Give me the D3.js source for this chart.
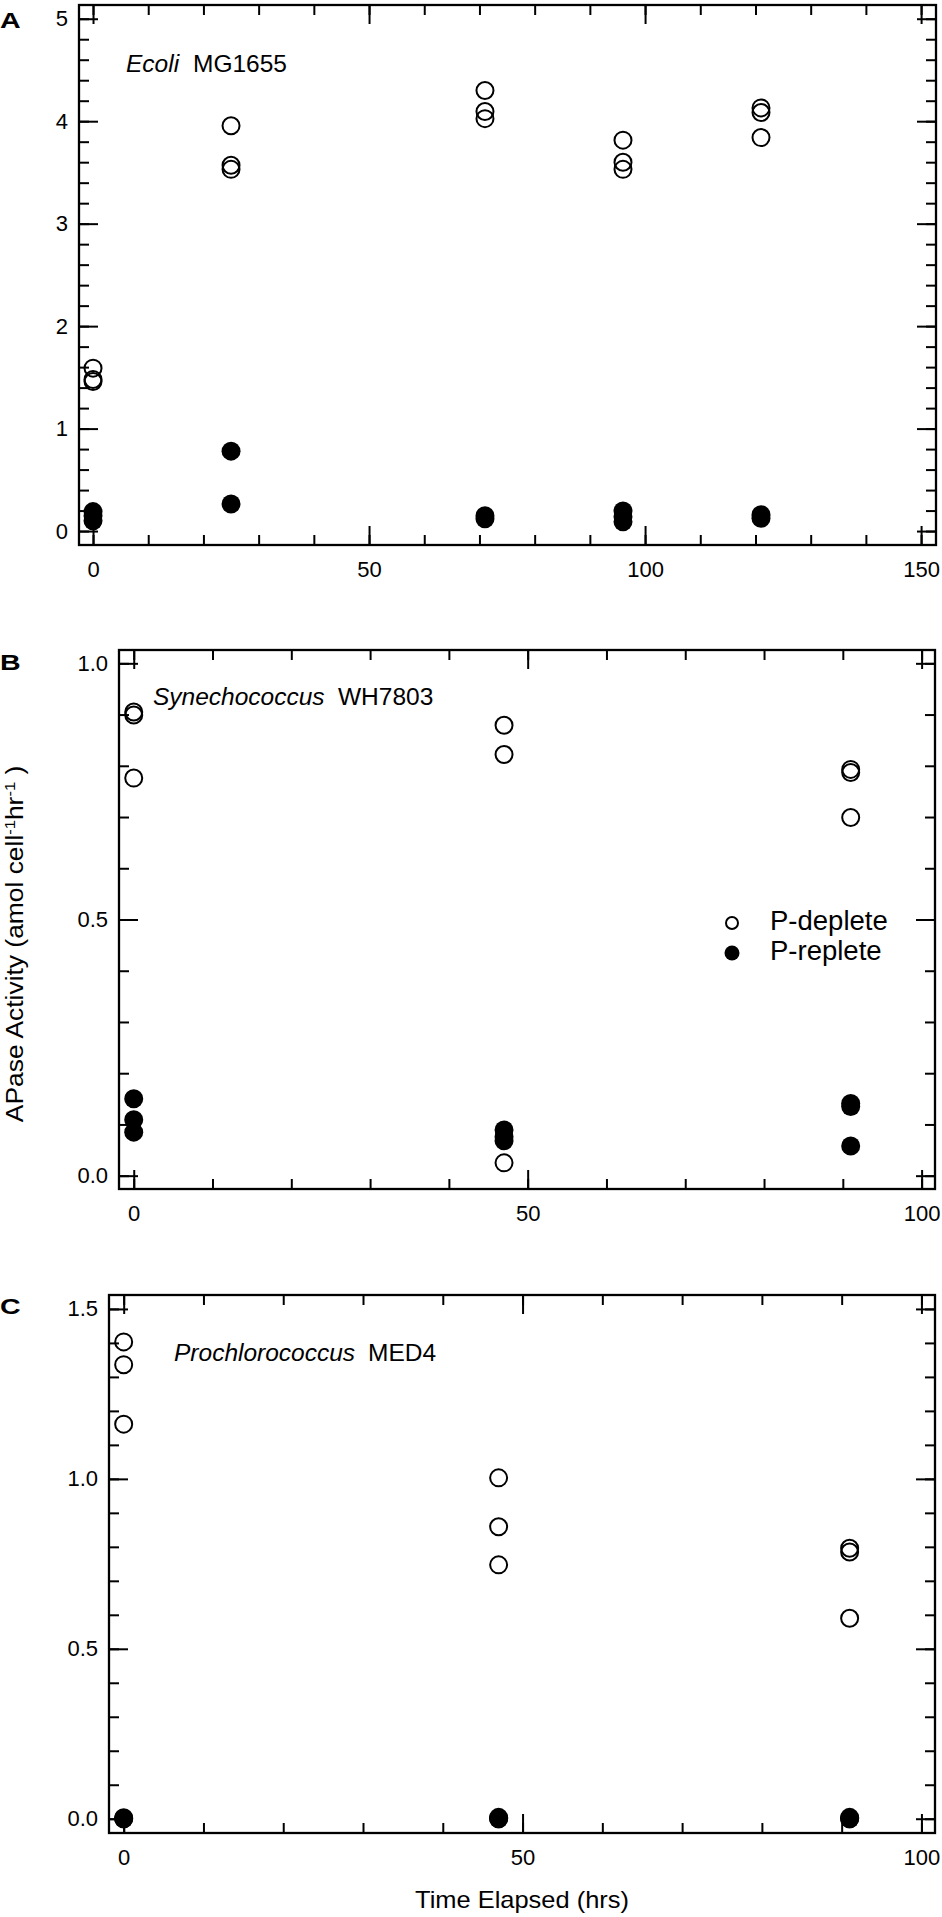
<!DOCTYPE html>
<html>
<head>
<meta charset="utf-8">
<script src="https://cdn.jsdelivr.net/npm/d3@7"></script>
<style>
  body { margin: 0; background: #fff; }
  svg { display: block; font-family: "Liberation Sans", Arial, Helvetica, sans-serif; }
  .frame { fill: none; stroke: #000; stroke-width: 2.3; }
  .tick line { stroke: #000; stroke-width: 2; }
  .tick text { font-size: 22px; fill: #000; }
  .open { fill: none; stroke: #000; stroke-width: 2; }
  .filled { fill: #000; }
</style>
</head>
<body>
<script>
// Sampling times (hrs)
const ecoliTimes = [0, 25, 71, 96, 121];
const synTimes = [0, 47, 91];
const proTimes = [0, 47, 91];

// APase activity replicates per time point (amol cell-1 hr-1)
const ecoliDeplete = [[1.59, 1.48, 1.46], [3.955, 3.57, 3.53], [4.30, 4.095, 4.025], [3.815, 3.60, 3.53], [4.13, 4.085, 3.84]];
const ecoliReplete = [[0.19, 0.15, 0.10], [0.78, 0.265], [0.15, 0.12], [0.195, 0.14, 0.09], [0.16, 0.125]];

const synDeplete = [[0.905, 0.899, 0.776], [0.879, 0.822, 0.025], [0.793, 0.787, 0.699]];
const synReplete = [[0.150, 0.109, 0.085], [0.089, 0.076, 0.068], [0.141, 0.135, 0.058]];

const proDeplete = [[1.403, 1.336, 1.161], [1.003, 0.859, 0.747], [0.796, 0.785, 0.590]];
const proReplete = [[0.003, 0.0, 0.0], [0.004, 0.0, 0.0], [0.004, 0.0, 0.0]];

// Tick labels
const ecoliXTicks = [0, 50, 100, 150];
const ecoliYTicks = [0, 1, 2, 3, 4, 5];
const shortXTicks = [0, 50, 100];
const synYTicks = [0, 0.5, 1.0];
const proYTicks = [0, 0.5, 1.0, 1.5];

const legendLabels = ["P-deplete", "P-replete"];

const WIDTH = 942;
const HEIGHT = 1917;

const PANELS = [
    {
        letter: "A", letterY: 28,
        left: 79, right: 936, top: 5, bottom: 545,
        xDomain: [-2.54, 152.7], yDomain: [-0.136, 5.134],
        xTicks: ecoliXTicks, xMinor: d3.range(0, 151, 10),
        yTicks: ecoliYTicks, yMinor: d3.range(0, 5.01, 0.2), yFormat: d3.format("d"),
        times: ecoliTimes, deplete: ecoliDeplete, replete: ecoliReplete,
        title: [ { text: "Ecoli", x: 126, italic: true }, { text: "MG1655", x: 193 } ], titleY: 72
    },
    {
        letter: "B", letterY: 670,
        left: 119, right: 935, top: 650, bottom: 1189,
        xDomain: [-1.87, 101.7], yDomain: [-0.026, 1.026],
        xTicks: shortXTicks, xMinor: d3.range(0, 101, 10),
        yTicks: synYTicks, yMinor: d3.range(0, 1.001, 0.1), yFormat: d3.format(".1f"),
        times: synTimes, deplete: synDeplete, replete: synReplete,
        title: [ { text: "Synechococcus", x: 153, italic: true }, { text: "WH7803", x: 338 } ], titleY: 705,
        legend: { x: 732, y: 923, gap: 30, textX: 770 }
    },
    {
        letter: "C", letterY: 1314,
        left: 109, right: 935, top: 1295, bottom: 1833,
        xDomain: [-1.84, 101.7], yDomain: [-0.042, 1.541],
        xTicks: shortXTicks, xMinor: d3.range(0, 101, 10),
        yTicks: proYTicks, yMinor: d3.range(0, 1.501, 0.1), yFormat: d3.format(".1f"),
        times: proTimes, deplete: proDeplete, replete: proReplete,
        title: [ { text: "Prochlorococcus", x: 174, italic: true }, { text: "MED4", x: 368 } ], titleY: 1361
    }
];

class Panel {
    constructor(svg, cfg) {
        this.cfg = cfg;
        this.g = svg.append("g");
        this.x = d3.scaleLinear().domain(cfg.xDomain).range([ cfg.left, cfg.right ]);
        this.y = d3.scaleLinear().domain(cfg.yDomain).range([ cfg.bottom, cfg.top ]);
    }

    render() {
        this.drawAxes();
        this.drawFrame();
        this.drawPoints();
        this.drawTitle();
        if (this.cfg.legend) this.drawLegend();
    }

    drawAxes() {
        const c = this.cfg;
        const major = 19, minor = 10;

        // minor ticks on all four sides, pointing inward
        this.axis(d3.axisBottom(this.x).tickValues(c.xMinor).tickSize(-minor).tickFormat(""), 0, c.bottom);
        this.axis(d3.axisTop(this.x).tickValues(c.xMinor).tickSize(-minor).tickFormat(""), 0, c.top);
        this.axis(d3.axisLeft(this.y).tickValues(c.yMinor).tickSize(-minor).tickFormat(""), c.left, 0);
        this.axis(d3.axisRight(this.y).tickValues(c.yMinor).tickSize(-minor).tickFormat(""), c.right, 0);

        // major ticks, labelled on bottom and left
        this.axis(d3.axisBottom(this.x).tickValues(c.xTicks).tickSize(-major).tickPadding(16).tickFormat(d3.format("d")), 0, c.bottom);
        this.axis(d3.axisTop(this.x).tickValues(c.xTicks).tickSize(-major).tickFormat(""), 0, c.top);
        this.axis(d3.axisLeft(this.y).tickValues(c.yTicks).tickSize(-major).tickPadding(11).tickFormat(c.yFormat), c.left, 0);
        this.axis(d3.axisRight(this.y).tickValues(c.yTicks).tickSize(-major).tickFormat(""), c.right, 0);
    }

    axis(gen, tx, ty) {
        const a = this.g.append("g")
            .attr("transform", `translate(${tx},${ty})`)
            .call(gen);
        a.select(".domain").remove();
        a.attr("font-family", null).attr("font-size", null);
        return a;
    }

    drawFrame() {
        const c = this.cfg;
        this.g.append("rect")
            .attr("class", "frame")
            .attr("x", c.left)
            .attr("y", c.top)
            .attr("width", c.right - c.left)
            .attr("height", c.bottom - c.top);

        // panel letter, a little wider than the stock bold face
        this.g.append("text")
            .attr("transform", `translate(0,${c.letterY}) scale(1.3,1)`)
            .attr("font-size", 22)
            .attr("font-weight", "bold")
            .text(c.letter);
    }

    flatten(values) {
        const pts = [];
        this.cfg.times.forEach((t, i) => {
            values[i].forEach(v => pts.push({ t, v }));
        });
        return pts;
    }

    drawPoints() {
        const c = this.cfg;
        this.g.append("g").selectAll("circle")
            .data(this.flatten(c.deplete))
            .join("circle")
            .attr("class", "open")
            .attr("cx", d => this.x(d.t))
            .attr("cy", d => this.y(d.v))
            .attr("r", 8.5);

        this.g.append("g").selectAll("circle")
            .data(this.flatten(c.replete))
            .join("circle")
            .attr("class", "filled")
            .attr("cx", d => this.x(d.t))
            .attr("cy", d => this.y(d.v))
            .attr("r", 9.5);
    }

    drawTitle() {
        const c = this.cfg;
        c.title.forEach(part => {
            this.g.append("text")
                .attr("x", part.x)
                .attr("y", c.titleY)
                .attr("font-size", 24.5)
                .attr("font-style", part.italic ? "italic" : "normal")
                .text(part.text);
        });
    }

    drawLegend() {
        const L = this.cfg.legend;
        const items = this.g.append("g").selectAll("g")
            .data(legendLabels)
            .join("g")
            .attr("transform", (d, i) => `translate(0,${L.y + i * L.gap})`);

        items.append("circle")
            .attr("cx", L.x)
            .attr("cy", 0)
            .attr("r", (d, i) => i === 0 ? 6 : 7.5)
            .attr("class", (d, i) => i === 0 ? "open" : "filled");

        items.append("text")
            .attr("x", L.textX)
            .attr("y", 7)
            .attr("font-size", 27.5)
            .text(d => d);
    }
}

const svg = d3.select("body")
    .append("svg")
    .attr("width", WIDTH)
    .attr("height", HEIGHT);

svg.append("rect").attr("width", WIDTH).attr("height", HEIGHT).attr("fill", "#fff");

PANELS.forEach(cfg => new Panel(svg, cfg).render());

// Shared y-axis title (stretched along the text to match the original's wide face)
const yTitle = svg.append("text")
    .attr("transform", "translate(23,944) rotate(-90) scale(1.1,1)")
    .attr("text-anchor", "middle")
    .attr("font-size", 24);
yTitle.append("tspan").text("APase Activity (amol cell");
yTitle.append("tspan").attr("dy", -8).attr("font-size", 15).text("-1");
yTitle.append("tspan").attr("dy", 8).text("hr");
yTitle.append("tspan").attr("dy", -8).attr("font-size", 15).text("-1");
yTitle.append("tspan").attr("dy", 8).text(" )");

// Shared x-axis title
svg.append("text")
    .attr("transform", "translate(522,1908) scale(1.06,1)")
    .attr("text-anchor", "middle")
    .attr("font-size", 24)
    .text("Time Elapsed (hrs)");
</script>
</body>
</html>
